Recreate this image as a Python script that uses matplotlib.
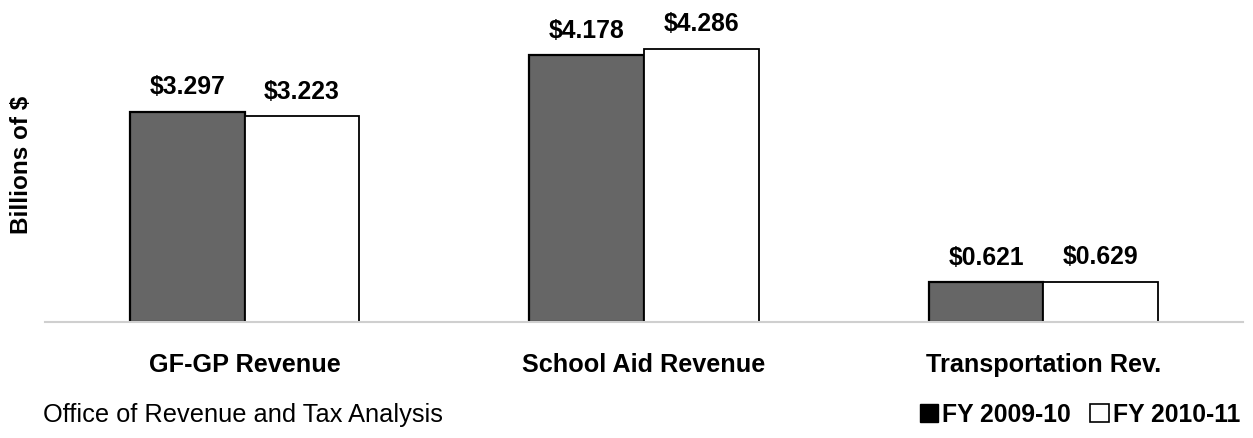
import matplotlib.pyplot as plt
from matplotlib.patches import Patch
import numpy as np

plt.rcParams['font.family'] = ['Liberation Sans', 'DejaVu Sans']

# revenue by fund, billions of dollars
categories = ["GF-GP Revenue", "School Aid Revenue", "Transportation Rev."]
fy_2009_10 = [3.297, 4.178, 0.621]
fy_2010_11 = [3.223, 4.286, 0.629]
series_names = ["FY 2009-10", "FY 2010-11"]

fig = plt.figure(figsize=(12.53, 4.38), dpi=100)
ax = fig.add_axes([45 / 1253, 116 / 438, 1198 / 1253, 319 / 438])

x = np.arange(len(categories))
w = 0.287
b1 = ax.bar(x - w / 2, fy_2009_10, w, color='#666666', edgecolor='black', linewidth=1.6)
b2 = ax.bar(x + w / 2, fy_2010_11, w, color='white', edgecolor='black', linewidth=1.3)

for bars in (b1, b2):
    ax.bar_label(bars, fmt='${:.3f}', padding=9, fontsize=17.8, fontweight='bold')

ax.set_xlim(-0.5, 2.5)
ax.set_ylim(0, 5.0)
ax.set_xticks(x)
ax.set_xticklabels(categories, fontsize=18.2, fontweight='bold')
ax.tick_params(axis='x', length=0, pad=22)
ax.set_yticks([])
for side in ('top', 'right', 'left'):
    ax.spines[side].set_visible(False)
ax.spines['bottom'].set_color('#cfcfcf')
ax.spines['bottom'].set_linewidth(1.5)

fig.text(22 / 1253, 1 - 165 / 438, "Billions of $", rotation=90, ha='center', va='center',
         fontsize=17.5, fontweight='bold')
fig.text(43 / 1253, 1 - 415 / 438, "Office of Revenue and Tax Analysis", ha='left', va='center',
         fontsize=18.3)

handles = [Patch(facecolor='black', edgecolor='black'),
           Patch(facecolor='white', edgecolor='black', linewidth=1.2)]
fig.legend(handles, series_names, loc='center right', bbox_to_anchor=(1240 / 1253, 1 - 415 / 438),
           ncol=2, frameon=False, handlelength=0.75, handleheight=0.75, handletextpad=0.15,
           columnspacing=0.8, borderpad=0, borderaxespad=0,
           prop={'size': 17.8, 'weight': 'bold'})

fig.savefig('out.png', dpi=100)
